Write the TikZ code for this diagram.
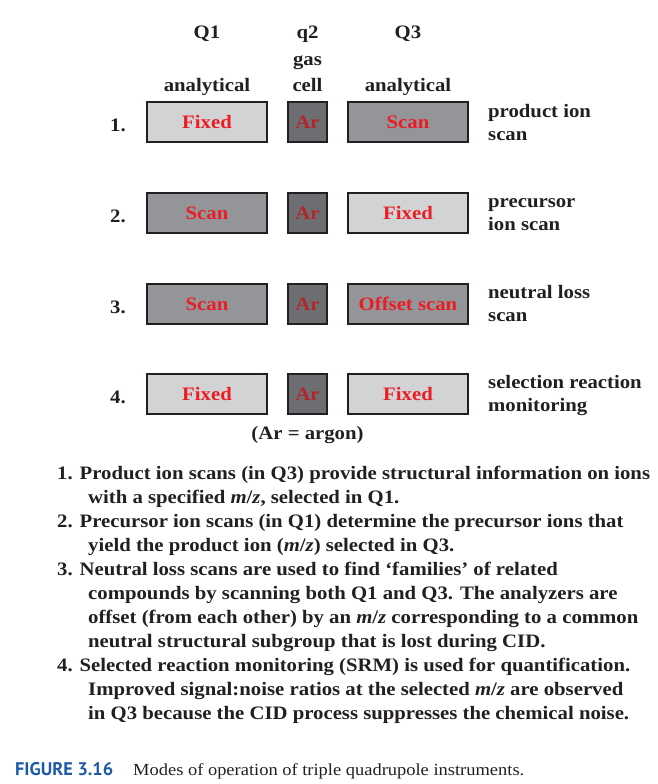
\documentclass[tikz,border=0pt]{standalone}
\usepackage{fontspec}
\setmainfont{Liberation Serif}
\newfontfamily\mfont[FakeStretch=1.092]{Liberation Serif}
\newfontfamily\capsans{PT Sans}
\definecolor{light}{HTML}{D1D3D4}
\definecolor{mid}{HTML}{939598}
\definecolor{dark}{HTML}{6D6E71}
\definecolor{edge}{HTML}{231F20}
\definecolor{ink}{HTML}{231F20}
\definecolor{redtxt}{HTML}{ED1C24}
\definecolor{darkred}{HTML}{B3262C}
\definecolor{capblue}{HTML}{1F5AA6}
\begin{document}
\begin{tikzpicture}[x=1pt,y=-1pt,
  qbox/.style={draw=edge, line width=2pt, minimum height=40pt, inner sep=0pt, text=redtxt, font=\mfont\fontsize{19}{21}\selectfont\bfseries},
  widebox/.style={qbox, minimum width=120pt},
  arbox/.style={qbox, minimum width=39pt, fill=dark, text=darkred},
  lt/.style={fill=light},
  md/.style={fill=mid},
  lbl/.style={font=\mfont\fontsize{19}{22}\selectfont\bfseries, text=ink, inner sep=0pt},
  body/.style={lbl, anchor=base west},
  lab/.style={lbl, anchor=base west},
  hdr/.style={lbl, anchor=base},
]
\useasboundingbox (0,0) rectangle (658,784);
% headers
\node[hdr] (hq1) at (207,39) {Q1};
\node[hdr] (hq2) at (307.5,39) {q2};
\node[hdr] (hq3) at (408,39) {Q3};
\node[hdr] (hgas) at (307.5,66) {gas};
\node[hdr] (hcell) at (307.5,91) {cell};
\node[hdr] (han1) at (207,91) {analytical};
\node[hdr] (han3) at (408,91) {analytical};
% row 1
\node[lbl, anchor=base east] (n1) at (126,131) {1.};
\node[widebox, lt] (a1) at (207,122) {Fixed};
\node[arbox] (b1) at (307.5,122) {Ar};
\node[widebox, md] (c1) at (408,122) {Scan};
\node[lab] (r1a) at (488,117) {product ion};
\node[lab] (r1b) at (488,140) {scan};
% row 2
\node[lbl, anchor=base east] (n2) at (126,222) {2.};
\node[widebox, md] (a2) at (207,213) {Scan};
\node[arbox] (b2) at (307.5,213) {Ar};
\node[widebox, lt] (c2) at (408,213) {Fixed};
\node[lab] (r2a) at (488,207) {precursor};
\node[lab] (r2b) at (488,230) {ion scan};
% row 3
\node[lbl, anchor=base east] (n3) at (126,313) {3.};
\node[widebox, md] (a3) at (207,304) {Scan};
\node[arbox] (b3) at (307.5,304) {Ar};
\node[widebox, md] (c3) at (408,304) {Offset scan};
\node[lab] (r3a) at (488,298) {neutral loss};
\node[lab] (r3b) at (488,321) {scan};
% row 4
\node[lbl, anchor=base east] (n4) at (126,403) {4.};
\node[widebox, lt] (a4) at (207,394) {Fixed};
\node[arbox] (b4) at (307.5,394) {Ar};
\node[widebox, lt] (c4) at (408,394) {Fixed};
\node[lab] (r4a) at (488,388) {selection reaction};
\node[lab] (r4b) at (488,411) {monitoring};
\node[hdr] (argon) at (307.5,439) {(Ar = argon)};
% body text
\node[body] (t1) at (57,479) {1. Product ion scans (in Q3) provide structural information on ions};
\node[body] (t2) at (88,503) {with a specified \textit{m}/\textit{z}, selected in Q1.};
\node[body] (t3) at (57,527) {2. Precursor ion scans (in Q1) determine the precursor ions that};
\node[body] (t4) at (88,551) {yield the product ion (\textit{m}/\textit{z}) selected in Q3.};
\node[body] (t5) at (57,575) {3. Neutral loss scans are used to find ‘families’ of related};
\node[body] (t6) at (88,599) {compounds by scanning both Q1 and Q3. The analyzers are};
\node[body] (t7) at (88,623) {offset (from each other) by an \textit{m}/\textit{z} corresponding to a common};
\node[body] (t8) at (88,647) {neutral structural subgroup that is lost during CID.};
\node[body] (t9) at (57,671) {4. Selected reaction monitoring (SRM) is used for quantification.};
\node[body] (t10) at (88,695) {Improved signal:noise ratios at the selected \textit{m}/\textit{z} are observed};
\node[body] (t11) at (88,719) {in Q3 because the CID process suppresses the chemical noise.};
% caption
\node[anchor=base west, inner sep=0pt, text=capblue, font=\capsans\fontsize{18.3}{20}\selectfont\bfseries] (fig) at (15,775) {FIGURE 3.16};
\node[anchor=base west, inner sep=0pt, text=ink, font=\mfont\fontsize{16.9}{19}\selectfont] (cap) at (133,775) {Modes of operation of triple quadrupole instruments.};
\end{tikzpicture}
\end{document}
